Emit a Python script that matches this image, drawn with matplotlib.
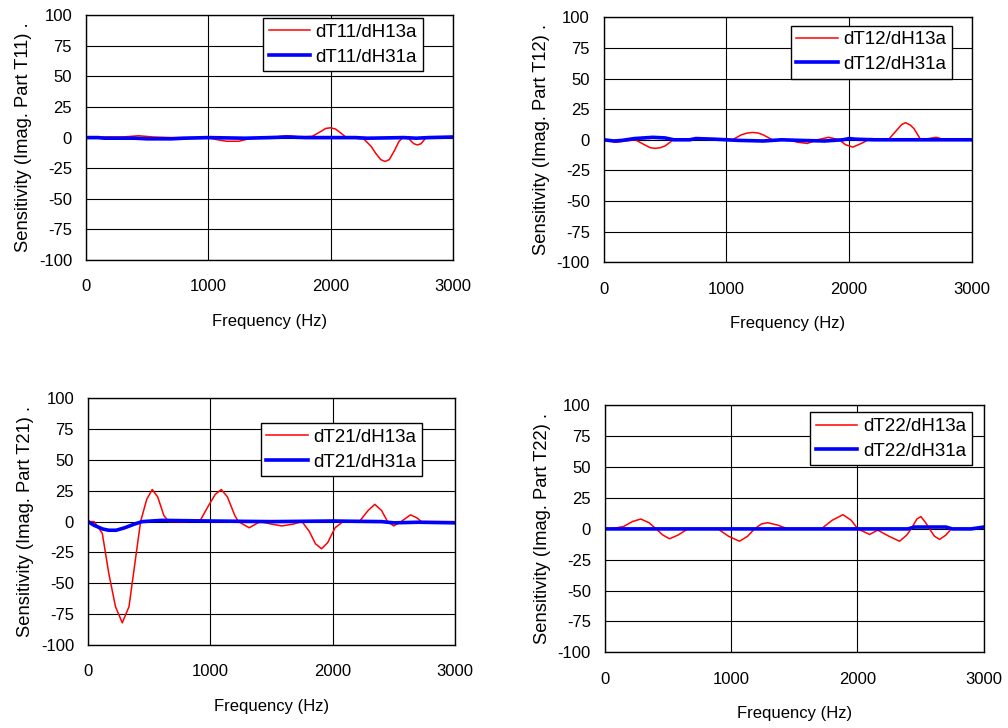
import numpy as np
import matplotlib
matplotlib.use('Agg')
import matplotlib.pyplot as plt

# T11
t11_f_13 = [0, 150, 300, 430, 550, 700, 900, 1000, 1060, 1150, 1250, 1330, 1450, 1550, 1640, 1750, 1850,
            1920, 1960, 2000, 2040, 2080, 2130, 2270, 2330, 2370, 2410, 2445, 2480, 2520, 2560, 2590, 2640,
            2680, 2710, 2740, 2780, 2850, 3000]
t11_v_13 = [0, 0.5, 0.5, 1.5, 0.5, 0, 0, 0, -1.5, -3, -3, -1, 0, 0.5, 1.5, 0.5, 1,
            5, 7.5, 8, 7, 4, 0, -1, -7, -13, -18, -19.5, -18, -11, -3, 0, -1,
            -5, -6, -5, 0, 0.5, 0]
t11_f_31 = [0, 100, 150, 400, 500, 700, 800, 1000, 1300, 1500, 1650, 1800, 2000, 2200, 2300, 2600, 2700, 2800, 3000]
t11_v_31 = [0, 0, -0.5, -0.5, -1, -1, -0.5, 0, -0.5, 0, 0.5, 0, 0, 0, -0.5, 0, -0.5, 0, 0.5]

# T12
t12_f_13 = [0, 60, 100, 180, 257, 330, 380, 420, 460, 500, 567, 700, 900, 1050, 1120, 1170, 1212, 1260, 1300,
            1375, 1500, 1580, 1660, 1740, 1833, 1920, 1970, 2030, 2100, 2175, 2250, 2320, 2390, 2430, 2460,
            2500, 2530, 2585, 2650, 2710, 2780, 3000]
t12_v_13 = [0, -1, -2, -1, 0, -4, -6.5, -7, -6.5, -5, 0, 0.5, 0.5, 0, 4, 5.5, 6, 5.5, 4,
            0, 0, -2, -3, 0, 2, 0, -4, -6, -3, 1, 0.5, 0, 8, 12.5, 14,
            12, 9, 0, 1, 2, 0, 0]
t12_f_31 = [0, 80, 150, 250, 400, 500, 570, 700, 750, 900, 1000, 1100, 1300, 1450, 1600, 1800, 1950, 2000, 2050, 2200, 3000]
t12_v_31 = [0, -1, -0.5, 1, 2, 1.5, 0, 0, 1, 0.5, 0, -0.5, -1, 0, -0.5, -1, 0, 1, 0.5, 0, 0]

# T21
t21_f_13 = [0, 50, 117, 170, 225, 280, 335, 390, 430, 480, 525, 570, 620, 660, 800, 918, 980, 1040, 1090,
            1140, 1200, 1230, 1318, 1407, 1500, 1584, 1680, 1750, 1810, 1860, 1910, 1960, 2020, 2085, 2222,
            2290, 2345, 2400, 2450, 2500, 2560, 2637, 2690, 2725, 3000]
t21_v_13 = [0, 0, -9.5, -42, -69, -82, -69, -29, 0, 18, 26, 20, 5, 0, 0, 1, 12, 22, 26,
            20, 5, 0, -5, 0, -2, -3.5, -2, 0, -8, -18, -22, -17, -5, 0, 0.5,
            9, 14, 9, 0, -3.5, 0, 5.5, 3, 0, 0]
t21_f_31 = [0, 50, 120, 170, 230, 300, 380, 443, 600, 1000, 1500, 2000, 2400, 2500, 2700, 3000]
t21_v_31 = [0, -3, -6, -7, -7, -5, -2, 0, 1, 0.5, 0, 0.5, 0, -1, -0.5, -1]

# T22
t22_f_13 = [0, 50, 150, 220, 285, 350, 406, 460, 512, 580, 657, 895, 980, 1066, 1130, 1185, 1240, 1290,
            1370, 1450, 1713, 1800, 1885, 1950, 2003, 2096, 2160, 2250, 2333, 2390, 2425, 2470, 2502, 2540,
            2570, 2610, 2650, 2700, 2742, 2900, 3000]
t22_v_13 = [0, 0, 2, 6, 8, 5, 0, -5, -8, -5, 0, 0, -6, -10, -6, 0, 4, 5,
            3, 0, 0, 7, 11.5, 7, 0, -4.5, -1, -6, -10, -5, 0, 8, 10, 5,
            0, -6, -8.5, -5, 0, 0, 1]
t22_f_31 = [0, 1000, 1500, 2000, 2400, 2450, 2700, 2750, 2900, 3000]
t22_v_31 = [0, 0, 0, 0, 0, 1.5, 1.5, 0, 0, 1.5]

plt.rcParams['font.family'] = ['Liberation Sans', 'DejaVu Sans']
# 负号用普通连字符
plt.rcParams['axes.unicode_minus'] = False


def draw_panel(fig, rect, name, f13, v13, f31, v31, leg_anchor):
    """
    one sub chart
    """
    ax = fig.add_axes(rect)
    ax.plot(f13, v13, color='#FF0000', lw=1.1, label='d%s/dH13a' % name)
    ax.plot(f31, v31, color='#0000FF', lw=2.6, label='d%s/dH31a' % name)
    ax.set_xlim(0, 3000)
    ax.set_ylim(-100, 100)
    ax.set_xticks([0, 1000, 2000, 3000])
    ax.set_yticks(np.arange(-100, 101, 25))
    ax.grid(True, color='black', lw=0.8)
    ax.set_axisbelow(True)
    ax.tick_params(axis='both', length=0, labelsize=12)
    ax.tick_params(axis='x', pad=14)
    ax.tick_params(axis='y', pad=10)
    for s in ax.spines.values():
        s.set_color('black')
        s.set_linewidth(1)
    ax.set_xlabel('Frequency (Hz)', fontsize=12, labelpad=14)
    ax.set_ylabel('Sensitivity (Imag. Part %s) .' % name, fontsize=13.2, labelpad=5)
    leg = ax.legend(loc='upper right', bbox_to_anchor=leg_anchor, borderaxespad=0,
                    fontsize=13.5, fancybox=False, framealpha=1, edgecolor='black',
                    handlelength=2.2, handletextpad=0.3, borderpad=0.3, labelspacing=0.4)
    leg.get_frame().set_linewidth(1)
    return ax


def main():
    fig = plt.figure(figsize=(10.08, 7.28), dpi=100)
    draw_panel(fig, [0.0853, 0.643, 0.364, 0.336], 'T11', t11_f_13, t11_v_13, t11_f_31, t11_v_31,
               (0.918, 0.988))
    draw_panel(fig, [0.599, 0.640, 0.365, 0.336], 'T12', t12_f_13, t12_v_13, t12_f_31, t12_v_31,
               (0.946, 0.967))
    draw_panel(fig, [0.0873, 0.114, 0.364, 0.339], 'T21', t21_f_13, t21_v_13, t21_f_31, t21_v_31,
               (0.910, 0.899))
    draw_panel(fig, [0.600, 0.104, 0.376, 0.339], 'T22', t22_f_13, t22_v_13, t22_f_31, t22_v_31,
               (0.968, 0.972))
    fig.savefig('out.png', dpi=100)


if __name__ == '__main__':
    main()
